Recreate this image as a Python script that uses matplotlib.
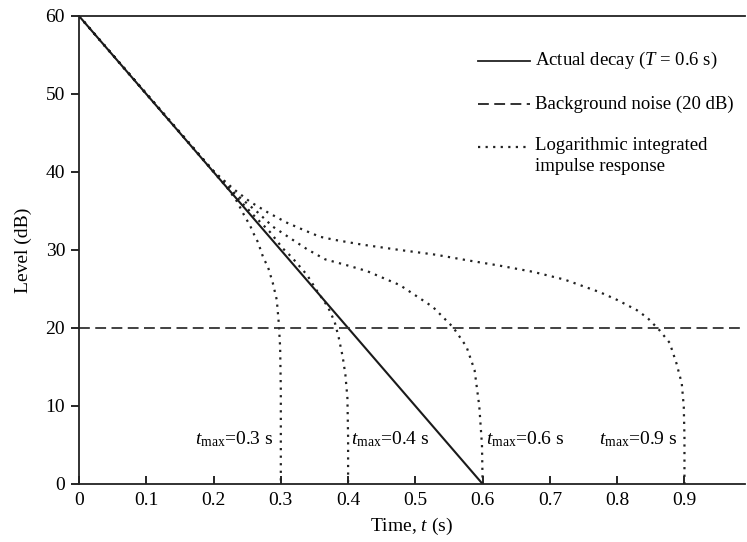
import numpy as np
import matplotlib
matplotlib.use("Agg")
import matplotlib.pyplot as plt

plt.rcParams["font.family"] = ["Liberation Serif", "DejaVu Serif"]
plt.rcParams["mathtext.fontset"] = "custom"
plt.rcParams["mathtext.rm"] = "Liberation Serif"
plt.rcParams["mathtext.it"] = "Liberation Serif:italic"
plt.rcParams["font.size"] = 14

# Data
decay_t = [0.0, 0.6]
decay_level = [60, 0]
noise_level = 20

t_max = [0.3, 0.4, 0.6, 0.9]

curve_03_t = [0.0, 0.2, 0.22, 0.235, 0.247, 0.254, 0.259, 0.266, 0.274, 0.281,
              0.288, 0.294, 0.297, 0.299, 0.3, 0.3]
curve_03_l = [60, 40.0, 38.0, 36.2, 34.2, 33.2, 32.2, 31.0, 29.0, 27.8,
              25.8, 23.6, 20.6, 17.5, 12.0, 0]

curve_04_t = [0.0, 0.2, 0.23, 0.259, 0.284, 0.303, 0.316, 0.339, 0.355, 0.37,
              0.38, 0.386, 0.392, 0.396, 0.399, 0.4, 0.4]
curve_04_l = [60, 40.1, 37.2, 34.5, 32.3, 30.2, 29.1, 26.8, 24.6, 22.7,
              20.8, 18.8, 16.3, 14.0, 11.0, 6.0, 0]

curve_06_t = [0.0, 0.2, 0.23, 0.266, 0.288, 0.316, 0.339, 0.366, 0.4, 0.428,
              0.477, 0.526, 0.556, 0.576, 0.588, 0.595, 0.599, 0.6]
curve_06_l = [60, 40.1, 37.4, 34.8, 33.0, 31.4, 30.1, 28.8, 28.0, 27.3,
              25.5, 22.7, 20.1, 17.6, 14.6, 10.0, 5.0, 0]

curve_09_t = [0.0, 0.2, 0.23, 0.254, 0.281, 0.309, 0.333, 0.358, 0.38, 0.42,
              0.477, 0.53, 0.576, 0.625, 0.675, 0.722, 0.774, 0.8, 0.829,
              0.845, 0.863, 0.878, 0.888, 0.896, 0.899, 0.9, 0.9]
curve_09_l = [60, 40.1, 37.8, 36.2, 34.8, 33.5, 32.6, 31.7, 31.3, 30.7,
              30.0, 29.4, 28.7, 28.0, 27.2, 26.2, 24.6, 23.6, 22.3,
              21.3, 19.7, 18.1, 15.5, 12.9, 9.9, 6.0, 0]

curves = [(curve_03_t, curve_03_l), (curve_04_t, curve_04_l),
          (curve_06_t, curve_06_l), (curve_09_t, curve_09_l)]

x_ticks = [0, 0.1, 0.2, 0.3, 0.4, 0.5, 0.6, 0.7, 0.8, 0.9]
x_tick_labels = ["0", "0.1", "0.2", "0.3", "0.4", "0.5", "0.6", "0.7", "0.8", "0.9"]
y_ticks = [0, 10, 20, 30, 40, 50, 60]

# Plotting
fig = plt.figure(figsize=(7.47, 5.42), dpi=100)
ax = fig.add_axes([79 / 747, 58 / 542, 666 / 747, 468 / 542])

dotted = (0, (1, 2.4))
dashed = (0, (6, 3))

for t, l in curves:
    ax.plot(t, l, color="#222222", lw=1.6, ls=dotted)
ax.plot(decay_t, decay_level, color="#1a1a1a", lw=1.5)
ax.axhline(noise_level, color="#333333", lw=1.3, ls=dashed)

# t_max labels
label_y = 5.8
for tm in t_max:
    txt = r"$t_{\rm max}$=" + f"{tm} s"
    if tm in (0.3, 0.9):
        ax.text(tm - 0.01, label_y, txt, ha="right", va="center")
    else:
        ax.text(tm + 0.005, label_y, txt, ha="left", va="center")

# legend drawn by hand so the dotted handle sits on the first text line
handle_x = [0.599, 0.677]
text_x = 0.685
leg_size = 13.5
rows = [(0.904, "-", r"Actual decay ($T$ = 0.6 s)"),
        (0.812, dashed, "Background noise (20 dB)"),
        (0.72, dotted, "Logarithmic integrated\nimpulse response")]
for y, ls, label in rows:
    ax.plot(handle_x, [y, y], transform=ax.transAxes, color="#222222",
            lw=1.6 if ls is dotted else 1.3, ls=ls, clip_on=False)
    if "\n" in label:
        ax.text(text_x, y + 0.021, label, transform=ax.transAxes, fontsize=leg_size,
                ha="left", va="top", linespacing=1.3)
    else:
        ax.text(text_x, y, label, transform=ax.transAxes, fontsize=leg_size,
                ha="left", va="center")

ax.set_xlim(0, 0.99)
ax.set_ylim(0, 60)
ax.set_xticks(x_ticks)
ax.set_xticklabels(x_tick_labels)
ax.set_yticks(y_ticks)
ax.spines["right"].set_visible(False)
for s in ["left", "bottom", "top"]:
    ax.spines[s].set_linewidth(1.3)
    ax.spines[s].set_color("#222222")
ax.tick_params(axis="x", direction="in", length=6, width=1.2, pad=6)
ax.tick_params(axis="y", direction="out", length=6, width=1.2, pad=4)
ax.set_xlabel(r"Time, $t$ (s)", labelpad=5)
ax.set_ylabel("Level (dB)", labelpad=10)

fig.savefig("out.png", dpi=100)
